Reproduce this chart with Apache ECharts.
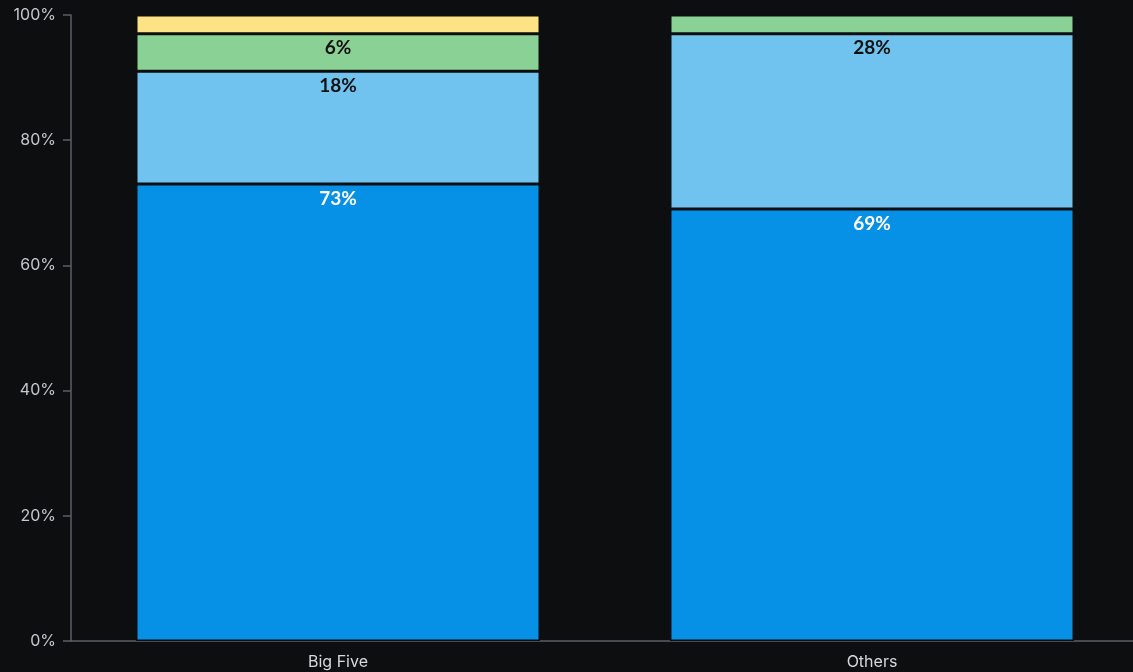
<!DOCTYPE html>
<html>
<head>
<meta charset="utf-8">
<script src="https://cdn.jsdelivr.net/npm/echarts@6/dist/echarts.min.js"></script>
<style>
html,body{margin:0;padding:0;background:#0d0e10;overflow:hidden;}
#c{width:1139px;height:672px;}
</style>
</head>
<body>
<div id="c"></div>
<script>
const categories = ['Big Five', 'Others'];
const seriesNames = ['Primary', 'Secondary', 'Third', 'Fourth'];
const valuesPrimary = [73, 69];
const valuesSecondary = [18, 28];
const valuesThird = [6, 3];
const valuesFourth = [3, 0];
const yTicks = ['0%', '20%', '40%', '60%', '80%', '100%'];

const colors = ['#0791e6', '#6fc3ee', '#8ad195', '#fde383'];
const labelColors = ['#ffffff', '#111111', '#111111', '#111111'];
const allValues = [valuesPrimary, valuesSecondary, valuesThird, valuesFourth];

const chart = echarts.init(document.getElementById('c'));
chart.setOption({
  backgroundColor: '#0d0e10',
  animation: false,
  grid: { left: 71, right: 0, top: 15, bottom: 31, containLabel: false },
  xAxis: {
    type: 'category',
    data: categories,
    axisLine: { lineStyle: { color: '#5b5f66', width: 1.5 } },
    axisTick: { alignWithLabel: true, length: 6, lineStyle: { color: '#5b5f66', width: 1.5 } },
    axisLabel: { color: '#d6d8dc', fontSize: 16, fontFamily: 'Inter', margin: 13 }
  },
  yAxis: {
    type: 'value',
    min: 0, max: 100, interval: 20,
    splitLine: { show: false },
    axisLine: { show: true, lineStyle: { color: '#5b5f66', width: 1.5 } },
    axisTick: { show: true, length: 8, lineStyle: { color: '#5b5f66', width: 1.5 } },
    axisLabel: {
      color: '#c4c7cc', fontSize: 16, fontFamily: 'Inter', margin: 15,
      formatter: (v) => yTicks[Math.round(v / 20)]
    }
  },
  series: allValues.map((vals, i) => ({
    name: seriesNames[i],
    type: 'bar',
    stack: 'total',
    barWidth: 404,
    data: vals,
    itemStyle: { color: colors[i], borderColor: '#0d0e10', borderWidth: 1.5 },
    label: {
      show: true,
      position: 'insideTop',
      distance: 5,
      color: labelColors[i],
      fontSize: 19,
      fontWeight: 'bold',
      fontFamily: 'Lato',
      formatter: (p) => (p.value >= 5 ? p.value + '%' : '')
    }
  }))
});
</script>
</body>
</html>
